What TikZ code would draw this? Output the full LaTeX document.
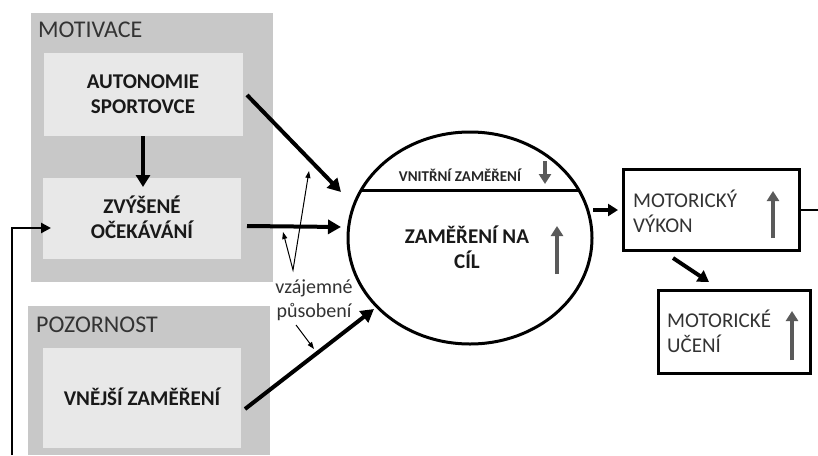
\documentclass[tikz,border=0pt]{standalone}
\usepackage{fontspec}
\setmainfont{Carlito}
\usetikzlibrary{arrows.meta}
\definecolor{outergray}{HTML}{C8C8C8}
\definecolor{innergray}{HTML}{E8E8E8}
\definecolor{arrgray}{HTML}{5A5A5A}
\definecolor{txtgray}{HTML}{333333}
\tikzset{
  groupbox/.style={fill=outergray, draw=none},
  innerbox/.style={fill=innergray, draw=none, inner sep=0pt},
  boxtext/.style={anchor=base, inner sep=0pt, font=\fontsize{21}{25}\selectfont\bfseries, text=black!90},
  grouplabel/.style={anchor=base west, font=\fontsize{24}{28}\selectfont, text=txtgray, inner sep=0pt},
  thickarrow/.style={line width=4pt, -{Triangle[length=13pt,width=14pt]}},
  thinarrow/.style={line width=1pt, -{Triangle[length=7pt,width=5pt]}},
  grayarrow/.style={line width=3.5pt, draw=arrgray, -{Triangle[length=10pt,width=12pt]}},
  outbox/.style={draw=black, line width=3pt, fill=white},
  outtext/.style={anchor=base west, inner sep=0pt, font=\fontsize{21}{25}\selectfont, text=txtgray},
}
\begin{document}
\begin{tikzpicture}[x=1pt,y=-1pt]
\useasboundingbox (0,0) rectangle (818,455);
\fill[white] (0,0) rectangle (818,455);
% group boxes
\path[groupbox] (31,13) rectangle (273,282);
\path[groupbox] (28,306) rectangle (270,455);
\node[grouplabel] (motlab) at (38,37) {MOTIVACE};
\node[grouplabel] (pozlab) at (36,332) {POZORNOST};
% inner boxes
\node[innerbox, minimum width=199pt, minimum height=83pt] (auto) at (143.5,94.5) {};
\node[innerbox, minimum width=198pt, minimum height=81pt] (ocek) at (142,218.5) {};
\node[innerbox, minimum width=198pt, minimum height=100pt] (vnej) at (142,398) {};
\node[boxtext] (auto1) at (143,88) {AUTONOMIE};
\node[boxtext] (auto2) at (143,113) {SPORTOVCE};
\node[boxtext] (ocek1) at (142,213) {ZVÝŠENÉ};
\node[boxtext] (ocek2) at (142,238) {OČEKÁVÁNÍ};
\node[boxtext] (vnej1) at (142,405) {VNĚJŠÍ ZAMĚŘENÍ};
% ellipse
\draw[line width=3pt] (470,238) ellipse [x radius=122, y radius=106];
\coordinate (hl) at (360,190);
\coordinate (hr) at (578,190);
\draw[line width=3pt] (hl) -- (hr);
\node[anchor=base, inner sep=0pt, font=\fontsize{15}{18}\selectfont\bfseries, text=black!85] (vnit) at (460,181) {VNITŘNÍ ZAMĚŘENÍ};
\node[boxtext] (cil1) at (467,243) {ZAMĚŘENÍ NA};
\node[boxtext] (cil2) at (467,268) {CÍL};
\coordinate (ga1s) at (545,161);
\coordinate (ga1e) at (545,184);
\draw[grayarrow] (ga1s) -- (ga1e);
\coordinate (ga2s) at (557,274);
\coordinate (ga2e) at (557,226);
\draw[grayarrow] (ga2s) -- (ga2e);
% arrows into ellipse
\coordinate (e1) at (341,192);
\coordinate (e2) at (341,227);
\coordinate (e3) at (374,309);
\draw[thickarrow] (247,95) -- (e1);
\draw[thickarrow] (247,226) -- (e2);
\draw[thickarrow] (245,409) -- (e3);
\draw[line width=4pt, -{Triangle[length=12pt,width=14pt]}] (auto.south -| 143,136) -- (143,187);
% mutual influence
\coordinate (v1) at (283,232);
\coordinate (v2) at (293,270);
\coordinate (v3) at (309,171);
\draw[line width=1pt, {Triangle[length=7pt,width=5pt]}-{Triangle[length=7pt,width=5pt]}] (v1) -- (v2) -- (v3);
\node[anchor=base, inner sep=0pt, font=\fontsize{20}{24}\selectfont, text=txtgray] (vz1) at (314,293) {vzájemné};
\node[anchor=base, inner sep=0pt, font=\fontsize{20}{24}\selectfont, text=txtgray] (vz2) at (314,317) {působení};
\coordinate (s1) at (296,325);
\coordinate (s2) at (314,349);
\draw[thinarrow] (s1) -- (s2);
% output boxes
\draw[outbox] (623,169) rectangle (799,250);
\draw[outbox] (658,290) rectangle (810,373);
\node[outtext] (vykon1) at (633,207) {MOTORICKÝ};
\node[outtext] (vykon2) at (633,232) {VÝKON};
\node[outtext] (uceni1) at (667,327) {MOTORICKÉ};
\node[outtext] (uceni2) at (667,352) {UČENÍ};
\draw[grayarrow] (773,238) -- (773,191);
\draw[grayarrow] (792,360) -- (792,311);
\coordinate (o1) at (593,210);
\coordinate (o2) at (618,210);
\draw[line width=4pt, -{Triangle[length=10pt,width=12pt]}] (o1) -- (o2);
\coordinate (d1) at (673,258);
\coordinate (d2) at (709,282);
\draw[line width=4pt, -{Triangle[length=11pt,width=13pt]}] (d1) -- (d2);
% feedback
\coordinate (fbr) at (818,210);
\draw[line width=2pt] (799,210) -- (fbr);
\coordinate (fb0) at (12,455);
\coordinate (fb1) at (12,228);
\coordinate (fb2) at (51,228);
\draw[line width=2.5pt, -{Triangle[length=10pt,width=10pt]}] (fb0) -- (fb1) -- (fb2);
\end{tikzpicture}
\end{document}
